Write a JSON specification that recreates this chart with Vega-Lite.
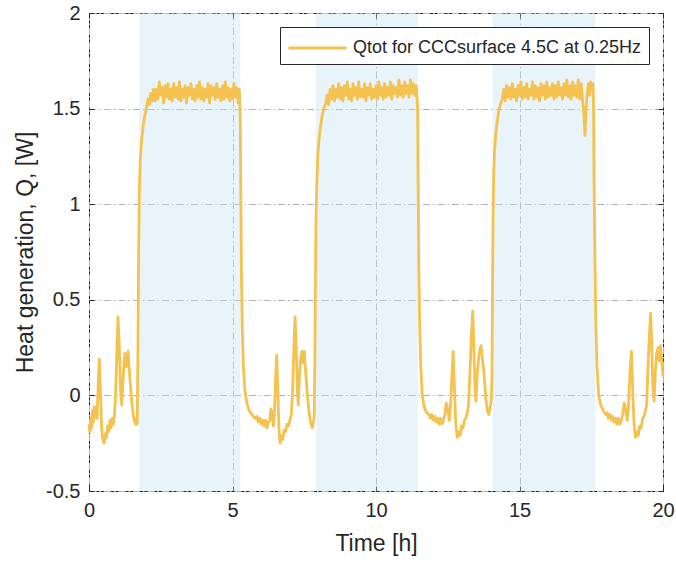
{
  "$schema": "https://vega.github.io/schema/vega-lite/v6.json",
  "width": 574,
  "height": 478,
  "autosize": {"type": "none"},
  "padding": {"left": 89, "top": 13, "right": 13, "bottom": 74},
  "config": {
    "font": "Liberation Sans",
    "view": {"stroke": "#262626", "strokeWidth": 1},
    "axis": {
      "labelFont": "Liberation Sans",
      "titleFont": "Liberation Sans",
      "labelColor": "#262626",
      "titleColor": "#262626",
      "labelFontSize": 20,
      "titleFontSize": 23,
      "titleFontWeight": "normal",
      "tickColor": "#262626",
      "domain": false
    }
  },
  "datasets": {
    "shade": [
      {"start": 1.75, "end": 5.27},
      {"start": 7.91, "end": 11.46},
      {"start": 14.07, "end": 17.64}
    ],
    "q": [
      {"t": 0.00, "q": -0.15}, {"t": 0.03, "q": -0.19}, {"t": 0.06, "q": -0.12}, {"t": 0.09, "q": -0.17},
      {"t": 0.12, "q": -0.08}, {"t": 0.15, "q": -0.14}, {"t": 0.18, "q": -0.06}, {"t": 0.21, "q": -0.11},
      {"t": 0.25, "q": -0.06}, {"t": 0.28, "q": -0.12}, {"t": 0.32, "q": 0.05}, {"t": 0.36, "q": 0.19},
      {"t": 0.40, "q": 0.02}, {"t": 0.44, "q": -0.17}, {"t": 0.48, "q": -0.23}, {"t": 0.53, "q": -0.25},
      {"t": 0.57, "q": -0.20}, {"t": 0.61, "q": -0.22}, {"t": 0.65, "q": -0.16}, {"t": 0.69, "q": -0.19},
      {"t": 0.73, "q": -0.13}, {"t": 0.77, "q": -0.17}, {"t": 0.81, "q": -0.12}, {"t": 0.85, "q": -0.15},
      {"t": 0.89, "q": -0.10}, {"t": 0.93, "q": 0.02}, {"t": 0.97, "q": 0.22}, {"t": 1.01, "q": 0.41},
      {"t": 1.05, "q": 0.28}, {"t": 1.09, "q": 0.06}, {"t": 1.14, "q": -0.05}, {"t": 1.19, "q": 0.10},
      {"t": 1.25, "q": 0.22}, {"t": 1.30, "q": 0.15}, {"t": 1.36, "q": 0.23}, {"t": 1.42, "q": 0.10},
      {"t": 1.50, "q": -0.05}, {"t": 1.56, "q": -0.12}, {"t": 1.62, "q": -0.15}, {"t": 1.66, "q": -0.12},
      {"t": 1.68, "q": -0.15}, {"t": 1.70, "q": 0.15}, {"t": 1.72, "q": 0.55}, {"t": 1.74, "q": 0.90},
      {"t": 1.76, "q": 1.10}, {"t": 1.79, "q": 1.24}, {"t": 1.83, "q": 1.33}, {"t": 1.88, "q": 1.40},
      {"t": 1.94, "q": 1.46}, {"t": 2.00, "q": 1.50},
      {"t": 2.05, "q": 1.55}, {"t": 2.10, "q": 1.52}, {"t": 2.15, "q": 1.58}, {"t": 2.20, "q": 1.54},
      {"t": 2.25, "q": 1.60}, {"t": 2.30, "q": 1.54}, {"t": 2.35, "q": 1.60}, {"t": 2.40, "q": 1.55},
      {"t": 2.45, "q": 1.64}, {"t": 2.50, "q": 1.57}, {"t": 2.55, "q": 1.61}, {"t": 2.60, "q": 1.53},
      {"t": 2.65, "q": 1.62}, {"t": 2.70, "q": 1.56}, {"t": 2.75, "q": 1.63}, {"t": 2.80, "q": 1.55},
      {"t": 2.85, "q": 1.60}, {"t": 2.90, "q": 1.54}, {"t": 2.95, "q": 1.63}, {"t": 3.00, "q": 1.56},
      {"t": 3.05, "q": 1.61}, {"t": 3.10, "q": 1.55}, {"t": 3.15, "q": 1.64}, {"t": 3.20, "q": 1.54},
      {"t": 3.25, "q": 1.60}, {"t": 3.30, "q": 1.56}, {"t": 3.35, "q": 1.62}, {"t": 3.40, "q": 1.53},
      {"t": 3.45, "q": 1.61}, {"t": 3.50, "q": 1.57}, {"t": 3.55, "q": 1.63}, {"t": 3.60, "q": 1.55},
      {"t": 3.65, "q": 1.60}, {"t": 3.70, "q": 1.54}, {"t": 3.75, "q": 1.62}, {"t": 3.80, "q": 1.56},
      {"t": 3.85, "q": 1.64}, {"t": 3.90, "q": 1.55}, {"t": 3.95, "q": 1.61}, {"t": 4.00, "q": 1.54},
      {"t": 4.05, "q": 1.60}, {"t": 4.10, "q": 1.56}, {"t": 4.15, "q": 1.63}, {"t": 4.20, "q": 1.53},
      {"t": 4.25, "q": 1.62}, {"t": 4.30, "q": 1.57}, {"t": 4.35, "q": 1.61}, {"t": 4.40, "q": 1.55},
      {"t": 4.45, "q": 1.63}, {"t": 4.50, "q": 1.56}, {"t": 4.55, "q": 1.60}, {"t": 4.60, "q": 1.54},
      {"t": 4.65, "q": 1.62}, {"t": 4.70, "q": 1.55}, {"t": 4.75, "q": 1.64}, {"t": 4.80, "q": 1.56},
      {"t": 4.85, "q": 1.61}, {"t": 4.90, "q": 1.54}, {"t": 4.95, "q": 1.60}, {"t": 5.00, "q": 1.55},
      {"t": 5.05, "q": 1.63}, {"t": 5.10, "q": 1.56}, {"t": 5.15, "q": 1.61}, {"t": 5.20, "q": 1.53},
      {"t": 5.24, "q": 1.60},
      {"t": 5.27, "q": 1.45}, {"t": 5.29, "q": 1.05}, {"t": 5.31, "q": 0.65}, {"t": 5.34, "q": 0.35},
      {"t": 5.38, "q": 0.15}, {"t": 5.43, "q": 0.03}, {"t": 5.50, "q": -0.04}, {"t": 5.58, "q": -0.08},
      {"t": 5.68, "q": -0.10}, {"t": 5.78, "q": -0.12}, {"t": 5.85, "q": -0.11}, {"t": 5.90, "q": -0.14},
      {"t": 5.95, "q": -0.12}, {"t": 6.00, "q": -0.15}, {"t": 6.05, "q": -0.13}, {"t": 6.10, "q": -0.16},
      {"t": 6.15, "q": -0.13}, {"t": 6.20, "q": -0.17}, {"t": 6.25, "q": -0.14}, {"t": 6.30, "q": -0.13},
      {"t": 6.34, "q": -0.07}, {"t": 6.38, "q": -0.09}, {"t": 6.42, "q": -0.16}, {"t": 6.46, "q": -0.10},
      {"t": 6.50, "q": 0.08}, {"t": 6.54, "q": 0.21}, {"t": 6.58, "q": 0.02}, {"t": 6.62, "q": -0.18},
      {"t": 6.66, "q": -0.25}, {"t": 6.70, "q": -0.21}, {"t": 6.75, "q": -0.23}, {"t": 6.80, "q": -0.18},
      {"t": 6.85, "q": -0.19}, {"t": 6.90, "q": -0.15}, {"t": 6.95, "q": -0.16}, {"t": 7.00, "q": -0.13},
      {"t": 7.05, "q": -0.10}, {"t": 7.10, "q": 0.05}, {"t": 7.14, "q": 0.25}, {"t": 7.18, "q": 0.41},
      {"t": 7.22, "q": 0.25}, {"t": 7.26, "q": 0.02}, {"t": 7.29, "q": -0.05}, {"t": 7.33, "q": 0.10},
      {"t": 7.38, "q": 0.20}, {"t": 7.42, "q": 0.23}, {"t": 7.46, "q": 0.17}, {"t": 7.50, "q": 0.23},
      {"t": 7.55, "q": 0.12}, {"t": 7.60, "q": 0.02}, {"t": 7.66, "q": -0.08}, {"t": 7.72, "q": -0.14},
      {"t": 7.78, "q": -0.17}, {"t": 7.83, "q": -0.13},
      {"t": 7.85, "q": -0.10}, {"t": 7.87, "q": 0.20}, {"t": 7.89, "q": 0.60}, {"t": 7.91, "q": 0.92},
      {"t": 7.94, "q": 1.12}, {"t": 7.97, "q": 1.25}, {"t": 8.01, "q": 1.33}, {"t": 8.06, "q": 1.40},
      {"t": 8.12, "q": 1.46}, {"t": 8.18, "q": 1.50}, {"t": 8.25, "q": 1.53},
      {"t": 8.30, "q": 1.57}, {"t": 8.35, "q": 1.52}, {"t": 8.40, "q": 1.60}, {"t": 8.45, "q": 1.55},
      {"t": 8.50, "q": 1.62}, {"t": 8.55, "q": 1.54}, {"t": 8.60, "q": 1.60}, {"t": 8.65, "q": 1.56},
      {"t": 8.70, "q": 1.63}, {"t": 8.75, "q": 1.55}, {"t": 8.80, "q": 1.61}, {"t": 8.85, "q": 1.54},
      {"t": 8.90, "q": 1.62}, {"t": 8.95, "q": 1.57}, {"t": 9.00, "q": 1.64}, {"t": 9.05, "q": 1.55},
      {"t": 9.10, "q": 1.60}, {"t": 9.15, "q": 1.54}, {"t": 9.20, "q": 1.63}, {"t": 9.25, "q": 1.57},
      {"t": 9.30, "q": 1.61}, {"t": 9.35, "q": 1.55}, {"t": 9.40, "q": 1.64}, {"t": 9.45, "q": 1.56},
      {"t": 9.50, "q": 1.60}, {"t": 9.55, "q": 1.56}, {"t": 9.60, "q": 1.63}, {"t": 9.65, "q": 1.54},
      {"t": 9.70, "q": 1.61}, {"t": 9.75, "q": 1.57}, {"t": 9.80, "q": 1.63}, {"t": 9.85, "q": 1.55},
      {"t": 9.90, "q": 1.60}, {"t": 9.95, "q": 1.56}, {"t": 10.00, "q": 1.62}, {"t": 10.05, "q": 1.55},
      {"t": 10.10, "q": 1.64}, {"t": 10.15, "q": 1.57}, {"t": 10.20, "q": 1.61}, {"t": 10.25, "q": 1.55},
      {"t": 10.30, "q": 1.63}, {"t": 10.35, "q": 1.56}, {"t": 10.40, "q": 1.61}, {"t": 10.45, "q": 1.57},
      {"t": 10.50, "q": 1.64}, {"t": 10.55, "q": 1.55}, {"t": 10.60, "q": 1.62}, {"t": 10.65, "q": 1.58},
      {"t": 10.70, "q": 1.61}, {"t": 10.75, "q": 1.56}, {"t": 10.80, "q": 1.65}, {"t": 10.85, "q": 1.57},
      {"t": 10.90, "q": 1.62}, {"t": 10.95, "q": 1.56}, {"t": 11.00, "q": 1.64}, {"t": 11.05, "q": 1.58},
      {"t": 11.10, "q": 1.62}, {"t": 11.15, "q": 1.56}, {"t": 11.20, "q": 1.65}, {"t": 11.25, "q": 1.58},
      {"t": 11.30, "q": 1.63}, {"t": 11.35, "q": 1.57}, {"t": 11.40, "q": 1.62},
      {"t": 11.45, "q": 1.50}, {"t": 11.47, "q": 1.10}, {"t": 11.49, "q": 0.70}, {"t": 11.52, "q": 0.38},
      {"t": 11.56, "q": 0.15}, {"t": 11.61, "q": 0.00}, {"t": 11.68, "q": -0.06}, {"t": 11.76, "q": -0.09},
      {"t": 11.85, "q": -0.10}, {"t": 11.90, "q": -0.12}, {"t": 11.95, "q": -0.10}, {"t": 12.00, "q": -0.13},
      {"t": 12.05, "q": -0.11}, {"t": 12.10, "q": -0.14}, {"t": 12.15, "q": -0.12}, {"t": 12.20, "q": -0.15},
      {"t": 12.25, "q": -0.12}, {"t": 12.30, "q": -0.15}, {"t": 12.35, "q": -0.13}, {"t": 12.40, "q": -0.10},
      {"t": 12.45, "q": -0.04}, {"t": 12.50, "q": -0.07}, {"t": 12.55, "q": -0.13}, {"t": 12.60, "q": -0.05},
      {"t": 12.65, "q": 0.12}, {"t": 12.69, "q": 0.23}, {"t": 12.73, "q": 0.05}, {"t": 12.78, "q": -0.15},
      {"t": 12.83, "q": -0.22}, {"t": 12.88, "q": -0.19}, {"t": 12.93, "q": -0.21}, {"t": 12.98, "q": -0.16},
      {"t": 13.03, "q": -0.17}, {"t": 13.08, "q": -0.13}, {"t": 13.13, "q": -0.12}, {"t": 13.18, "q": -0.09},
      {"t": 13.22, "q": -0.06}, {"t": 13.27, "q": 0.10}, {"t": 13.32, "q": 0.30}, {"t": 13.37, "q": 0.44},
      {"t": 13.41, "q": 0.25}, {"t": 13.45, "q": 0.03}, {"t": 13.48, "q": -0.03}, {"t": 13.53, "q": 0.12},
      {"t": 13.58, "q": 0.20}, {"t": 13.62, "q": 0.24}, {"t": 13.66, "q": 0.26}, {"t": 13.70, "q": 0.20},
      {"t": 13.74, "q": 0.15}, {"t": 13.78, "q": 0.08}, {"t": 13.83, "q": -0.02}, {"t": 13.88, "q": -0.08},
      {"t": 13.93, "q": -0.10}, {"t": 13.98, "q": -0.06}, {"t": 14.02, "q": -0.02},
      {"t": 14.04, "q": 0.10}, {"t": 14.06, "q": 0.55}, {"t": 14.08, "q": 0.95}, {"t": 14.10, "q": 1.15},
      {"t": 14.13, "q": 1.28}, {"t": 14.17, "q": 1.36}, {"t": 14.22, "q": 1.43}, {"t": 14.28, "q": 1.49},
      {"t": 14.35, "q": 1.53},
      {"t": 14.40, "q": 1.55}, {"t": 14.45, "q": 1.60}, {"t": 14.50, "q": 1.54}, {"t": 14.55, "q": 1.62},
      {"t": 14.60, "q": 1.56}, {"t": 14.65, "q": 1.61}, {"t": 14.70, "q": 1.55}, {"t": 14.75, "q": 1.63},
      {"t": 14.80, "q": 1.56}, {"t": 14.85, "q": 1.60}, {"t": 14.90, "q": 1.54}, {"t": 14.95, "q": 1.62},
      {"t": 15.00, "q": 1.57}, {"t": 15.05, "q": 1.64}, {"t": 15.10, "q": 1.55}, {"t": 15.15, "q": 1.61},
      {"t": 15.20, "q": 1.56}, {"t": 15.25, "q": 1.63}, {"t": 15.30, "q": 1.55}, {"t": 15.35, "q": 1.60},
      {"t": 15.40, "q": 1.57}, {"t": 15.45, "q": 1.64}, {"t": 15.50, "q": 1.55}, {"t": 15.55, "q": 1.62},
      {"t": 15.60, "q": 1.56}, {"t": 15.65, "q": 1.61}, {"t": 15.70, "q": 1.54}, {"t": 15.75, "q": 1.63},
      {"t": 15.80, "q": 1.57}, {"t": 15.85, "q": 1.62}, {"t": 15.90, "q": 1.55}, {"t": 15.95, "q": 1.64},
      {"t": 16.00, "q": 1.56}, {"t": 16.05, "q": 1.61}, {"t": 16.10, "q": 1.57}, {"t": 16.15, "q": 1.63},
      {"t": 16.20, "q": 1.55}, {"t": 16.25, "q": 1.62}, {"t": 16.30, "q": 1.56}, {"t": 16.35, "q": 1.64},
      {"t": 16.40, "q": 1.57}, {"t": 16.45, "q": 1.61}, {"t": 16.50, "q": 1.55}, {"t": 16.55, "q": 1.63},
      {"t": 16.60, "q": 1.57}, {"t": 16.65, "q": 1.65}, {"t": 16.70, "q": 1.56}, {"t": 16.75, "q": 1.62},
      {"t": 16.80, "q": 1.55}, {"t": 16.85, "q": 1.64}, {"t": 16.90, "q": 1.57}, {"t": 16.95, "q": 1.62},
      {"t": 17.00, "q": 1.56}, {"t": 17.05, "q": 1.65}, {"t": 17.10, "q": 1.55}, {"t": 17.15, "q": 1.63},
      {"t": 17.20, "q": 1.54}, {"t": 17.24, "q": 1.48}, {"t": 17.28, "q": 1.36}, {"t": 17.32, "q": 1.50},
      {"t": 17.36, "q": 1.58}, {"t": 17.40, "q": 1.63}, {"t": 17.44, "q": 1.57}, {"t": 17.48, "q": 1.64},
      {"t": 17.52, "q": 1.60}, {"t": 17.56, "q": 1.63},
      {"t": 17.58, "q": 1.50}, {"t": 17.60, "q": 1.10}, {"t": 17.63, "q": 0.70}, {"t": 17.66, "q": 0.38},
      {"t": 17.70, "q": 0.15}, {"t": 17.76, "q": 0.00}, {"t": 17.83, "q": -0.05}, {"t": 17.92, "q": -0.08},
      {"t": 18.00, "q": -0.10}, {"t": 18.05, "q": -0.09}, {"t": 18.10, "q": -0.12}, {"t": 18.15, "q": -0.10},
      {"t": 18.20, "q": -0.13}, {"t": 18.25, "q": -0.11}, {"t": 18.30, "q": -0.14}, {"t": 18.35, "q": -0.12},
      {"t": 18.40, "q": -0.15}, {"t": 18.45, "q": -0.12}, {"t": 18.50, "q": -0.15}, {"t": 18.55, "q": -0.13},
      {"t": 18.60, "q": -0.10}, {"t": 18.65, "q": -0.04}, {"t": 18.70, "q": -0.07}, {"t": 18.75, "q": -0.13},
      {"t": 18.80, "q": -0.05}, {"t": 18.85, "q": 0.12}, {"t": 18.90, "q": 0.23}, {"t": 18.94, "q": 0.05},
      {"t": 18.99, "q": -0.15}, {"t": 19.04, "q": -0.22}, {"t": 19.09, "q": -0.19}, {"t": 19.14, "q": -0.21},
      {"t": 19.19, "q": -0.16}, {"t": 19.24, "q": -0.17}, {"t": 19.29, "q": -0.12}, {"t": 19.34, "q": -0.11},
      {"t": 19.39, "q": -0.08}, {"t": 19.43, "q": -0.05}, {"t": 19.47, "q": 0.12}, {"t": 19.52, "q": 0.30},
      {"t": 19.57, "q": 0.43}, {"t": 19.61, "q": 0.25}, {"t": 19.65, "q": 0.03}, {"t": 19.69, "q": -0.03},
      {"t": 19.73, "q": 0.12}, {"t": 19.78, "q": 0.22}, {"t": 19.83, "q": 0.25}, {"t": 19.87, "q": 0.18},
      {"t": 19.91, "q": 0.26}, {"t": 19.95, "q": 0.20}, {"t": 20.00, "q": 0.10}
    ]
  },
  "layer": [
    {
      "data": {"name": "shade"},
      "mark": {"type": "rect", "color": "#BDE0F2", "opacity": 0.35},
      "encoding": {
        "x": {
          "field": "start", "type": "quantitative",
          "scale": {"domain": [0, 20], "nice": false, "zero": false},
          "axis": {
            "orient": "bottom",
            "values": [0, 5, 10, 15, 20],
            "title": "Time [h]",
            "titlePadding": 12,
            "grid": true,
            "gridColor": "#b4b4b4",
            "gridDash": [7, 3, 1.5, 3],
            "tickSize": -5,
            "labelPadding": 14,
            "labelFlush": false
          }
        },
        "x2": {"field": "end"},
        "y": {
          "datum": -0.5, "type": "quantitative",
          "scale": {"domain": [-0.5, 2], "nice": false, "zero": false},
          "axis": {
            "orient": "left",
            "values": [-0.5, 0, 0.5, 1, 1.5, 2],
            "labelExpr": "'' + datum.value",
            "title": "Heat generation, Q, [W]",
            "titlePadding": 8,
            "grid": true,
            "gridColor": "#b4b4b4",
            "gridDash": [7, 3, 1.5, 3],
            "tickSize": -5,
            "labelPadding": 14
          }
        },
        "y2": {"datum": 2}
      }
    },
    {
      "data": {"name": "q"},
      "mark": {"type": "line", "strokeWidth": 2.8, "strokeJoin": "round"},
      "encoding": {
        "x": {
          "field": "t", "type": "quantitative",
          "axis": {"orient": "top", "values": [0, 5, 10, 15, 20], "labels": false, "title": null, "grid": false, "tickSize": -5}
        },
        "y": {
          "field": "q", "type": "quantitative",
          "axis": {"orient": "right", "values": [-0.5, 0, 0.5, 1, 1.5, 2], "labels": false, "title": null, "grid": false, "tickSize": -5}
        },
        "color": {
          "datum": "Qtot for CCCsurface 4.5C at 0.25Hz",
          "type": "nominal",
          "scale": {"range": ["#F5C24F"]},
          "legend": {
            "title": null,
            "orient": "top-right",
            "offset": 14,
            "padding": 7,
            "strokeColor": "#262626",
            "fillColor": "white",
            "symbolType": "M-1,0H3.64",
            "symbolSize": 625,
            "symbolStrokeWidth": 3,
            "labelOffset": 38,
            "labelFontSize": 18,
            "labelFont": "Liberation Sans",
            "labelColor": "#262626",
            "labelLimit": 600
          }
        }
      }
    }
  ],
  "resolve": {"axis": {"x": "independent", "y": "independent"}}
}
